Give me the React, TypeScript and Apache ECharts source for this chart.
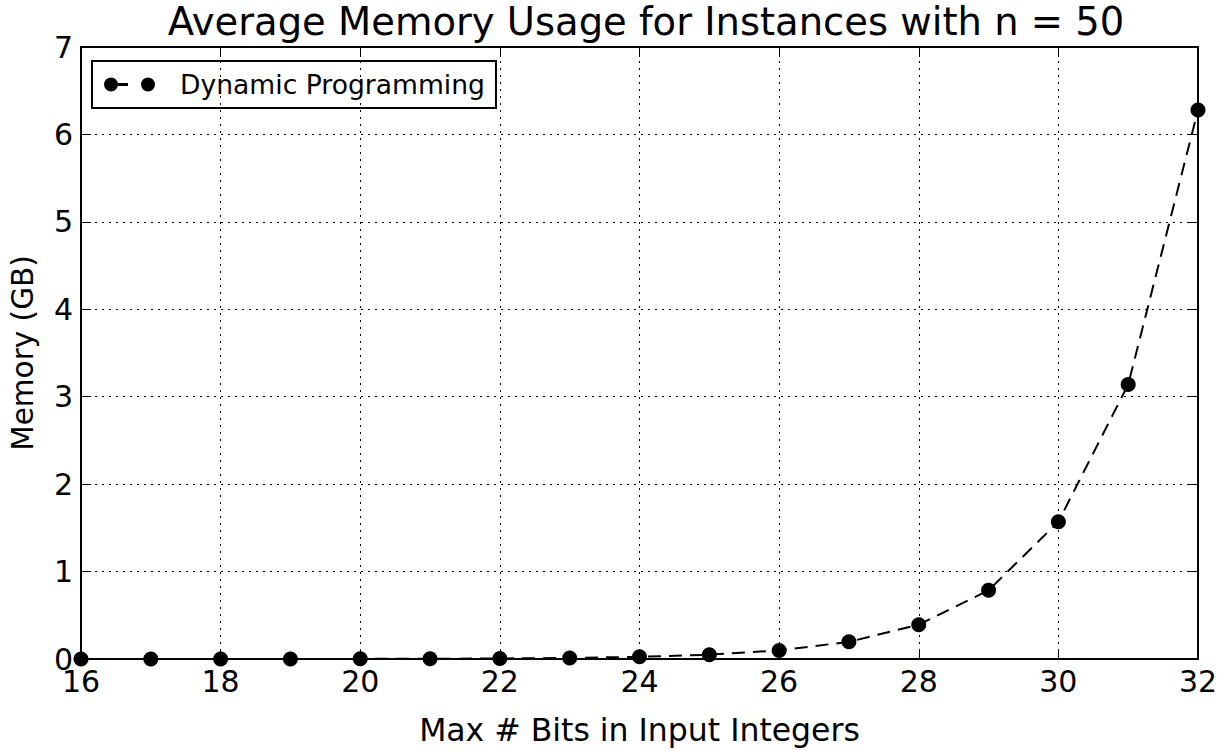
import React, { useEffect, useRef } from "react";
import * as echarts from "echarts";

const bits = [16, 17, 18, 19, 20, 21, 22, 23, 24, 25, 26, 27, 28, 29, 30, 31, 32];
const memoryGB = [0.0001, 0.0002, 0.0004, 0.0008, 0.0015, 0.003, 0.006, 0.012, 0.025, 0.049, 0.098, 0.196, 0.393, 0.785, 1.57, 3.14, 6.28];
const seriesName = "Dynamic Programming";
const titleText = "Average Memory Usage for Instances with n = 50";
const xName = "Max # Bits in Input Integers";
const yName = "Memory (GB)";

const FONT = "DejaVu Sans";
const legendIcon =
  "path://M0,7 A7,7 0 1,0 14,7 A7,7 0 1,0 0,7 Z M14,5.6 L24,5.6 L24,8.4 L14,8.4 Z M37,7 A7,7 0 1,0 51,7 A7,7 0 1,0 37,7 Z";

export default function App() {
  const ref = useRef<HTMLDivElement>(null);
  useEffect(() => {
    if (!ref.current) return;
    const chart = echarts.init(ref.current, null, { renderer: "svg" });
    const data = bits.map((b, i) => [b, memoryGB[i]]);
    const gridLine = { show: true, lineStyle: { color: "#000", type: [2, 5] as any, width: 1 } };
    chart.setOption({
      animation: false,
      backgroundColor: "#fff",
      textStyle: { fontFamily: FONT, color: "#000" },
      title: {
        text: titleText,
        left: 641,
        textAlign: "center",
        top: -3,
        textStyle: { fontFamily: FONT, fontSize: 38.5, fontWeight: "normal", color: "#000" },
      },
      legend: {
        left: 92,
        top: 61,
        orient: "vertical",
        padding: [10, 11, 10, 12],
        borderColor: "#000",
        borderWidth: 2,
        borderRadius: 0,
        itemWidth: 51,
        itemHeight: 14,
        icon: legendIcon,
        data: [{ name: seriesName, icon: legendIcon, itemStyle: { color: "#000" } }],
        textStyle: { fontFamily: FONT, fontSize: 26.6, color: "#000", padding: [0, 0, 0, 20], lineHeight: 27 },
      },
      grid: { left: 80, right: 33, top: 47, bottom: 89, containLabel: false },
      xAxis: [
        {
          type: "value",
          min: 16,
          max: 32,
          interval: 2,
          position: "bottom",
          name: xName,
          nameLocation: "middle",
          nameGap: 55,
          nameTextStyle: { fontFamily: FONT, fontSize: 31.5, color: "#000" },
          axisLine: { show: true, onZero: false, lineStyle: { color: "#000", width: 2 } },
          axisTick: { show: true, inside: true, length: 10, lineStyle: { color: "#000", width: 1 } },
          axisLabel: { fontFamily: FONT, fontSize: 30, color: "#000", margin: 7 },
          splitLine: gridLine,
        },
        {
          type: "value",
          min: 16,
          max: 32,
          interval: 2,
          position: "top",
          axisLine: { show: true, onZero: false, lineStyle: { color: "#000", width: 2 } },
          axisTick: { show: true, inside: true, length: 10, lineStyle: { color: "#000", width: 1 } },
          axisLabel: { show: false },
          splitLine: { show: false },
        },
      ],
      yAxis: [
        {
          type: "value",
          min: 0,
          max: 7,
          interval: 1,
          position: "left",
          name: yName,
          nameLocation: "middle",
          nameGap: 43,
          nameTextStyle: { fontFamily: FONT, fontSize: 29.5, color: "#000" },
          axisLine: { show: true, onZero: false, lineStyle: { color: "#000", width: 2 } },
          axisTick: { show: true, inside: true, length: 10, lineStyle: { color: "#000", width: 1 } },
          axisLabel: { fontFamily: FONT, fontSize: 30, color: "#000", margin: 8 },
          splitLine: gridLine,
        },
        {
          type: "value",
          min: 0,
          max: 7,
          interval: 1,
          position: "right",
          axisLine: { show: true, onZero: false, lineStyle: { color: "#000", width: 2 } },
          axisTick: { show: true, inside: true, length: 10, lineStyle: { color: "#000", width: 1 } },
          axisLabel: { show: false },
          splitLine: { show: false },
        },
      ],
      series: [
        {
          name: seriesName,
          type: "line",
          xAxisIndex: 0,
          yAxisIndex: 0,
          data,
          symbol: "circle",
          symbolSize: 15,
          clip: true,
          itemStyle: { color: "#000" },
          lineStyle: { color: "#000", width: 2, type: [13, 8] as any },
          z: 3,
        },
      ],
    });
    return () => chart.dispose();
  }, []);
  return <div ref={ref} style={{ position: "absolute", left: 0, top: 0, width: 1231, height: 751 }} />;
}
